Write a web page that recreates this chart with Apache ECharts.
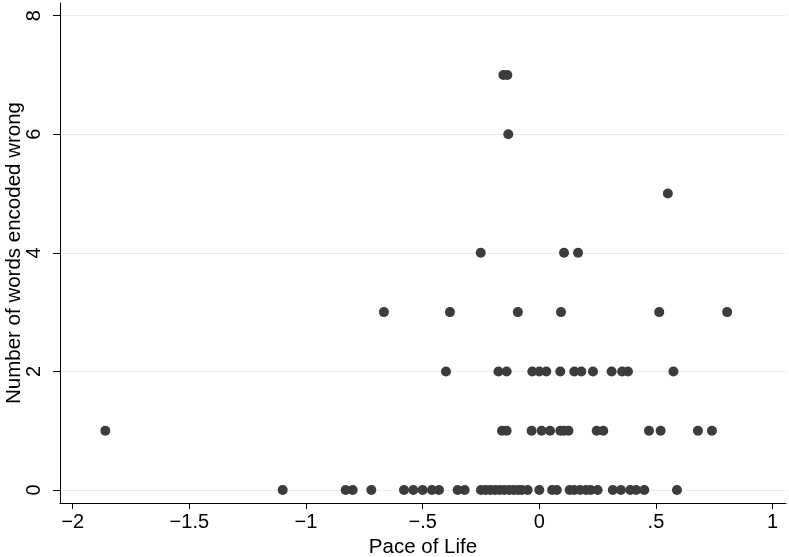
<!DOCTYPE html>
<html>
<head>
<meta charset="utf-8">
<script src="https://cdn.jsdelivr.net/npm/echarts@6/dist/echarts.min.js"></script>
<style>html,body{margin:0;padding:0;background:#fff;}#c{width:789px;height:557px;}</style>
</head>
<body>
<div id="c"></div>
<script>
// Pace of Life values, grouped by number of words encoded wrong
var wrong0 = [-1.10, -0.83, -0.80, -0.72, -0.58, -0.54, -0.50, -0.46, -0.43, -0.35, -0.32,
  -0.25, -0.23, -0.21, -0.19, -0.17, -0.15, -0.13, -0.11, -0.09, -0.075, -0.05,
  0.00, 0.055, 0.075, 0.13, 0.15, 0.175, 0.20, 0.22, 0.25, 0.315, 0.35, 0.39, 0.415, 0.45, 0.59];
var wrong1 = [-1.86, -0.16, -0.14, -0.033, 0.01, 0.046, 0.09, 0.105, 0.125, 0.246, 0.274, 0.47, 0.52, 0.68, 0.74];
var wrong2 = [-0.40, -0.175, -0.14, -0.03, 0.00, 0.03, 0.09, 0.15, 0.18, 0.23, 0.31, 0.355, 0.38, 0.575];
var wrong3 = [-0.666, -0.383, -0.092, 0.093, 0.514, 0.805];
var wrong4 = [-0.251, 0.106, 0.166];
var wrong5 = [0.551];
var wrong6 = [-0.133];
var wrong7 = [-0.154, -0.137];

var xTicks = [-2, -1.5, -1, -0.5, 0, 0.5, 1];
var yTicks = [0, 2, 4, 6, 8];

var groups = [wrong0, wrong1, wrong2, wrong3, wrong4, wrong5, wrong6, wrong7];
var points = [];
groups.forEach(function (arr, count) {
  arr.forEach(function (x) { points.push([x, count]); });
});

function fmtX(v) {
  var a = Math.abs(v);
  var s = String(a);
  if (s.indexOf('0.') === 0) s = s.slice(1);
  return (v < 0 ? '\u2212' : '') + s;
}

var FONT = 'Liberation Sans';
var chart = echarts.init(document.getElementById('c'), null, {renderer: 'canvas'});
chart.setOption({
  animation: false,
  backgroundColor: '#ffffff',
  grid: {left: 60, right: 3, top: 3, bottom: 54, containLabel: false, outerBoundsMode: 'none'},
  xAxis: {
    type: 'value',
    min: -2.0544, max: 1.0574,
    name: 'Pace of Life',
    nameLocation: 'middle',
    nameGap: 34,
    nameMoveOverlap: false,
    nameTextStyle: {fontFamily: FONT, fontSize: 20.5, color: '#000'},
    axisLine: {show: true, onZero: false, lineStyle: {color: '#000', width: 1}},
    axisTick: {show: true, length: 6, customValues: xTicks, lineStyle: {color: '#000'}},
    axisLabel: {customValues: xTicks, margin: 9, fontFamily: FONT, fontSize: 20, color: '#000', formatter: fmtX},
    splitLine: {show: false}
  },
  yAxis: {
    type: 'value',
    min: -0.219, max: 8.213,
    name: 'Number of words encoded wrong',
    nameLocation: 'middle',
    nameGap: 35,
    nameRotate: 90,
    nameMoveOverlap: false,
    nameTextStyle: {fontFamily: FONT, fontSize: 20.5, color: '#000'},
    axisLine: {show: true, onZero: false, lineStyle: {color: '#000', width: 1}},
    axisTick: {show: true, length: 7, customValues: yTicks, lineStyle: {color: '#000'}},
    axisLabel: {customValues: yTicks, rotate: 90, margin: 16, fontFamily: FONT, fontSize: 20, color: '#000'},
    splitLine: {show: true, lineStyle: {color: '#e6eff0', width: 1}}
  },
  series: [{
    type: 'scatter',
    data: points,
    symbol: 'circle',
    symbolSize: 10,
    itemStyle: {color: '#3c3c3c', opacity: 1}
  }]
});
</script>
</body>
</html>
